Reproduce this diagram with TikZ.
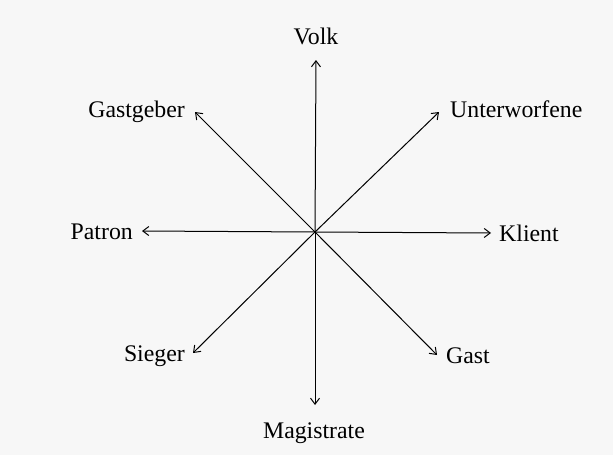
\documentclass[tikz,border=0pt]{standalone}
\usepackage{fontspec}
\setmainfont{Liberation Serif}
\usetikzlibrary{arrows.meta}
\begin{document}
\begin{tikzpicture}[x=1pt,y=-1pt,
  lbl/.style={inner sep=0pt,font=\fontsize{23.8}{28}\selectfont,text=black},
  ray/.style={line width=1pt,draw=black,-{Straight Barb[length=6pt,width=9pt,line width=1pt]}}]
\fill[black!3] (0,0) rectangle (613,455);
\useasboundingbox (0,0) rectangle (613,455);
\coordinate (c) at (315,232);
% tips
\coordinate (tVolk) at (316,60);
\coordinate (tMag) at (315,405);
\coordinate (tGg) at (195,112);
\coordinate (tUnt) at (439,112);
\coordinate (tPat) at (142,231);
\coordinate (tKli) at (491,233);
\coordinate (tSie) at (193,353);
\coordinate (tGast) at (437,355);
% labels
\node[lbl,anchor=base] (volk) at (316,44) {Volk};
\node[lbl,anchor=base] (mag) at (314,438) {Magistrate};
\node[lbl,anchor=base east] (gg) at (185,117) {Gastgeber};
\node[lbl,anchor=base west] (unt) at (450,117) {Unterworfene};
\node[lbl,anchor=base east] (pat) at (133,239) {Patron};
\node[lbl,anchor=base west] (kli) at (499,241) {Klient};
\node[lbl,anchor=base east] (sie) at (185,361) {Sieger};
\node[lbl,anchor=base west] (gast) at (446,363) {Gast};
% rays
\foreach \t in {tVolk,tMag,tGg,tUnt,tPat,tKli,tSie,tGast}
  \draw[ray] (c) -- (\t);
\end{tikzpicture}
\end{document}
